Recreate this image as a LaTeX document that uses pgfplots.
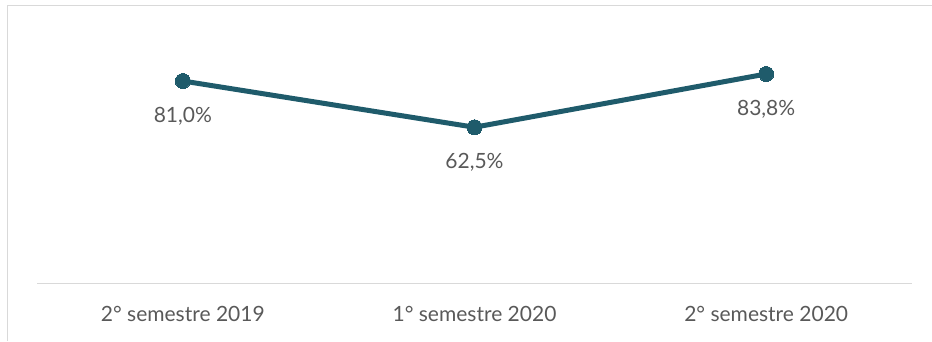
\documentclass[border=0pt]{standalone}
\usepackage{pgfplots}
\pgfplotsset{compat=1.18}
\usepackage{fontspec}
\setmainfont{Lato}
\definecolor{linec}{RGB}{31,91,107}
\definecolor{framec}{RGB}{217,217,217}
\definecolor{textc}{RGB}{89,89,89}
\begin{document}
\begin{tikzpicture}[x=1bp,y=1bp]
\path[use as bounding box] (0,0) rectangle (932,341);
\draw[framec, line width=1.5bp] (7.5,0) -- (7.5,335.5) -- (932,335.5);
\begin{axis}[
  at={(37bp,57.5bp)}, anchor=south west,
  scale only axis, width=875bp, height=250bp,
  xmin=-0.5, xmax=2.5, ymin=0, ymax=100,
  axis line style={draw=none},
  axis x line*=bottom,
  hide y axis,
  xtick={0,1,2},
  xticklabels={2° semestre 2019, 1° semestre 2020, 2° semestre 2020},
  xticklabel style={font=\fontsize{21bp}{24bp}\selectfont, text=textc, anchor=center, yshift=-30bp},
  major tick length=0pt,
  clip=false,
  nodes near coords,
  point meta=explicit symbolic,
  every node near coord/.append style={font=\fontsize{21bp}{24bp}\selectfont, text=textc, anchor=center, yshift=-35bp},
]
\draw[framec, line width=1.2bp] (axis cs:-0.5,0) -- (axis cs:2.5,0);
\addplot[linec, line width=5bp, mark=*, mark size=7.5bp, mark options={fill=linec, draw=linec, line width=0pt}]
  coordinates {(0,81.0) [81,0\%] (1,62.5) [62,5\%] (2,83.8) [83,8\%]};
\end{axis}
\end{tikzpicture}
\end{document}
